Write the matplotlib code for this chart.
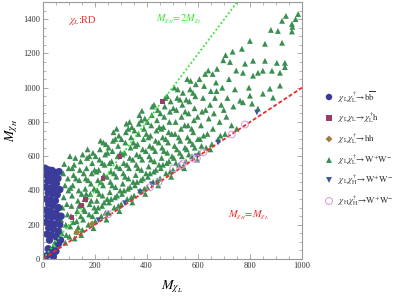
import matplotlib
matplotlib.use("Agg")
import matplotlib.pyplot as plt
import numpy as np

plt.rcParams['font.family'] = ['Liberation Serif', 'DejaVu Serif']
plt.rcParams['mathtext.fontset'] = 'stix'

# ---- data ----
bb_x = [8, 22, 35, 50, 62, 12, 30, 45, 58, 18, 38, 52, 10, 28, 44, 65, 20, 36, 55, 12, 30, 48, 22, 40, 60,
        10, 28, 50, 18, 35, 58, 70, 12, 30, 48, 65, 22, 40, 58, 15, 32, 50, 68, 25, 60, 20, 35, 50, 28, 15, 40]
bb_y = [530, 520, 517, 505, 510, 490, 485, 480, 470, 455, 450, 440, 420, 415, 410, 405, 385, 380, 375, 350,
        345, 340, 320, 310, 300, 285, 280, 270, 250, 245, 240, 250, 215, 210, 205, 200, 180, 175, 160, 145,
        140, 130, 110, 110, 90, 60, 50, 45, 30, 20, 15]

tri_x = [18, 25, 32, 40, 45,
         55, 60, 65, 70, 75, 80, 85, 78, 82, 90, 95, 88, 92, 98, 96, 72, 86, 99,
         102, 105, 108, 110, 112, 115, 118, 120, 125, 128, 130, 132, 135, 138, 140, 142, 145, 148, 104, 122, 136, 146, 113, 127, 149, 117, 139, 106,
         152, 155, 158, 160, 163, 165, 168, 170, 172, 175, 178, 180, 183, 185, 188, 190, 193, 195, 198, 153, 162, 174, 186, 197, 157, 167, 179, 191, 199,
         202, 205, 208, 210, 212, 215, 218, 220, 222, 225, 228, 230, 232, 235, 238, 240, 243, 245, 248, 203, 213, 224, 236, 247, 207, 217, 229, 241, 249, 233,
         252, 255, 258, 260, 262, 265, 268, 270, 272, 275, 278, 280, 283, 285, 288, 290, 293, 295, 298, 253, 263, 274, 286, 297, 257, 267, 279, 291, 299, 284,
         302, 305, 308, 310, 312, 315, 318, 320, 322, 325, 328, 330, 332, 335, 338, 340, 343, 345, 348, 303, 313, 324, 336, 347, 307, 317, 329, 341, 349, 334,
         352, 355, 358, 360, 362, 365, 368, 370, 372, 375, 378, 380, 383, 385, 388, 390, 393, 395, 398, 353, 363, 374, 386, 397, 357, 367, 379, 391, 399, 382,
         402, 405, 408, 410, 412, 415, 418, 420, 422, 425, 428, 430, 433, 435, 438, 440, 443, 445, 448, 403, 413, 424, 436, 447, 407, 417, 429, 441, 449,
         452, 455, 458, 460, 462, 465, 468, 470, 472, 475, 478, 480, 483, 485, 488, 490, 493, 495, 498, 453, 463, 474, 486, 497, 457, 467, 479, 491,
         502, 505, 508, 510, 512, 515, 518, 520, 525, 528, 530, 533, 535, 538, 540, 545, 548, 503, 513, 524, 536, 547, 507, 517, 529, 541, 549,
         552, 555, 558, 560, 562, 565, 568, 570, 575, 578, 580, 583, 585, 588, 590, 595, 598, 553, 563, 574, 586, 597, 557, 567, 579,
         602, 606, 610, 614, 618, 622, 626, 630, 635, 640, 645, 648, 604, 612, 628, 638, 646, 620,
         652, 656, 660, 664, 668, 672, 676, 682, 688, 692, 696, 655, 670, 685, 698,
         703, 708, 712, 718, 722, 728, 735, 741, 746, 705, 732, 748,
         761, 772, 768, 780, 772, 799, 795, 799, 811, 807,
         830, 849, 857, 857, 849, 830, 811, 880, 884, 888, 876,
         907, 915, 903, 923, 915, 934, 934, 923, 938,
         961, 963, 961, 985, 975]
tri_y = [42, 55, 48, 70, 95,
         80, 120, 180, 230, 300, 360, 430, 500, 555, 140, 260, 200, 320, 400, 470, 150, 95, 530,
         130, 190, 250, 310, 370, 430, 490, 550, 590, 160, 220, 280, 340, 400, 460, 520, 570, 140, 600, 120, 185, 250, 530, 470, 380, 215, 310, 415,
         170, 230, 290, 350, 410, 470, 530, 590, 640, 200, 260, 320, 380, 440, 500, 560, 620, 180, 300, 610, 280, 460, 340, 410, 500, 380, 600, 250, 520,
         220, 280, 340, 400, 460, 520, 580, 640, 690, 250, 310, 370, 430, 490, 550, 610, 670, 230, 350, 600, 300, 450, 330, 480, 510, 380, 560, 270, 620, 680,
         270, 330, 390, 450, 510, 570, 630, 690, 740, 300, 360, 420, 480, 540, 600, 660, 720, 280, 400, 650, 350, 500, 370, 530, 560, 430, 700, 310, 620, 760,
         320, 380, 440, 500, 560, 620, 680, 740, 790, 350, 410, 470, 530, 590, 650, 710, 770, 330, 450, 700, 400, 550, 420, 580, 610, 480, 760, 360, 680, 800,
         370, 430, 490, 550, 610, 670, 730, 790, 840, 400, 460, 520, 580, 640, 700, 760, 820, 380, 500, 750, 450, 600, 470, 630, 660, 530, 810, 410, 730, 865,
         420, 480, 540, 600, 660, 720, 780, 840, 890, 450, 510, 570, 630, 690, 750, 810, 870, 430, 550, 800, 500, 650, 520, 680, 710, 580, 900, 460, 770,
         470, 530, 590, 650, 710, 770, 830, 890, 940, 500, 560, 620, 680, 740, 800, 860, 920, 480, 600, 850, 550, 700, 570, 730, 760, 630, 950, 510,
         520, 590, 660, 730, 800, 870, 940, 990, 550, 620, 690, 760, 830, 900, 970, 530, 650, 880, 560, 710, 600, 780, 1000, 640, 930, 540, 860,
         570, 640, 710, 780, 850, 920, 990, 1040, 600, 670, 740, 810, 880, 950, 1020, 580, 700, 930, 610, 760, 650, 830, 1050, 690, 970,
         620, 700, 780, 860, 940, 1010, 1080, 650, 730, 820, 900, 980, 1050, 660, 870, 1100, 640, 720,
         670, 760, 850, 940, 1030, 1110, 700, 800, 900, 1000, 1160, 1080, 980, 720, 870,
         730, 830, 940, 1050, 1150, 780, 890, 990, 1100, 1190, 1210, 760,
         924, 915, 1227, 1140, 1087, 1273, 1000, 953, 1157, 907,
         878, 965, 1256, 1157, 1099, 1087, 1070, 1337, 1099, 942, 994,
         1331, 1087, 1145, 1262, 1012, 1145, 1120, 1390, 1419,
         1372, 1355, 1328, 1430, 1400]

sq_x = [112, 150, 163, 232, 297, 460]
sq_y = [240, 310, 345, 470, 600, 920]

hh_x = [131, 190]
hh_y = [157, 205]

lh_x = [214, 316, 374, 420, 593, 676, 826]
lh_y = [227, 326, 390, 436, 600, 680, 855]

hhc_x = [252, 413, 446, 503, 535, 541, 580, 594, 619, 729, 780]
hhc_y = [262, 419, 448, 529, 547, 558, 587, 587, 622, 727, 785]

line_x = [0, 1000]

legend_labels = [r'$\chi_{\rm L}\chi_{\rm L}^{\dagger}\!\rightarrow\!{\rm b}\overline{\rm b}$',
                 r'$\chi_{\rm L}\chi_{\rm L}\!\rightarrow\!\chi_{\rm L}^{\dagger}{\rm h}$',
                 r'$\chi_{\rm L}\chi_{\rm L}^{\dagger}\!\rightarrow\!{\rm hh}$',
                 r'$\chi_{\rm L}\chi_{\rm L}^{\dagger}\!\rightarrow\!{\rm W^{+}W^{-}}$',
                 r'$\chi_{\rm L}\chi_{\rm H}^{\dagger}\!\rightarrow\!{\rm W^{+}W^{-}}$',
                 r'$\chi_{\rm H}\chi_{\rm H}^{\dagger}\!\rightarrow\!{\rm W^{+}W^{-}}$']

# ---- colours ----
c_bb = '#3b3b9a'
c_tri = '#3a8f50'
c_sq = '#9a3d6b'
c_hh = '#9a7f3d'
c_lh = '#3d569a'
c_hhc = '#cc99dd'
frame_c = '#999999'

W, H = 399, 297
fig = plt.figure(figsize=(W / 100, H / 100), dpi=100)
ax = fig.add_axes([43 / W, 1 - 259 / H, 259 / W, 257 / H])

ax.scatter(tri_x, tri_y, marker='^', s=18, color=c_tri, edgecolors='none', zorder=2)
ax.scatter(bb_x, bb_y, marker='o', s=28, color=c_bb, edgecolors='none', zorder=2)
ax.plot(line_x, [v for v in line_x], color='#ee2a2a', lw=1.3, ls=(0, (2.2, 1.2)), zorder=3)
ax.plot(line_x, [2 * v for v in line_x], color='#33e633', lw=1.3, ls=(0, (1, 1.3)), zorder=3)
ax.scatter(sq_x, sq_y, marker='s', s=12, color=c_sq, edgecolors='none', zorder=4)
ax.scatter(hh_x, hh_y, marker='D', s=12, color=c_hh, edgecolors='none', zorder=4)
ax.scatter(lh_x, lh_y, marker='v', s=16, color=c_lh, edgecolors='none', zorder=4)
ax.scatter(hhc_x, hhc_y, marker='o', s=24, facecolors='none', edgecolors=c_hhc, linewidths=0.7, zorder=4)

ax.set_xlim(0, 1000)
ax.set_ylim(0, 1500)
ax.set_xticks([0, 200, 400, 600, 800, 1000])
ax.set_yticks([0, 200, 400, 600, 800, 1000, 1200, 1400])
ax.set_xticks(np.arange(0, 1001, 50), minor=True)
ax.set_yticks(np.arange(0, 1501, 50), minor=True)
ax.tick_params(which='both', direction='in', top=True, right=True, color=frame_c,
               labelsize=6, labelcolor='#333333', pad=2)
ax.tick_params(which='major', length=3.5, width=0.6)
ax.tick_params(which='minor', length=2, width=0.5)
for s in ax.spines.values():
    s.set_color(frame_c)
    s.set_linewidth(0.8)

ax.set_xlabel(r'$M_{\chi_L}$', fontsize=10, labelpad=6)
ax.set_ylabel(r'$M_{\chi_H}$', fontsize=10, labelpad=2)

ax.text(95, 1390, r'$\chi_L$:RD', color='#ee2a2a', fontsize=7.5, va='center')
ax.text(435, 1400, r'$M_{\chi_H}\!=\!2M_{\chi_L}$', color='#33e633', fontsize=7.5, va='center')
ax.text(716, 256, r'$M_{\chi_H}\!=\!M_{\chi_L}$', color='#ee2a2a', fontsize=7.5, va='center')

# legend
lax = fig.add_axes([0, 0, 1, 1])
lax.set_xlim(0, W)
lax.set_ylim(H, 0)
lax.axis('off')
rows = [97, 118, 139, 160, 180, 201]
styles = [dict(marker='o', s=22, color=c_bb, edgecolors='none'),
          dict(marker='s', s=14, color=c_sq, edgecolors='none'),
          dict(marker='D', s=12, color=c_hh, edgecolors='none'),
          dict(marker='^', s=18, color=c_tri, edgecolors='none'),
          dict(marker='v', s=18, color=c_lh, edgecolors='none'),
          dict(marker='o', s=24, facecolors='none', edgecolors=c_hhc, linewidths=0.7)]
for yy, st, lab in zip(rows, styles, legend_labels):
    lax.scatter([329], [yy], **st)
    lax.text(338, yy, lab, fontsize=6.5, va='center', ha='left', color='#333333')

fig.savefig('out.png', dpi=100)
